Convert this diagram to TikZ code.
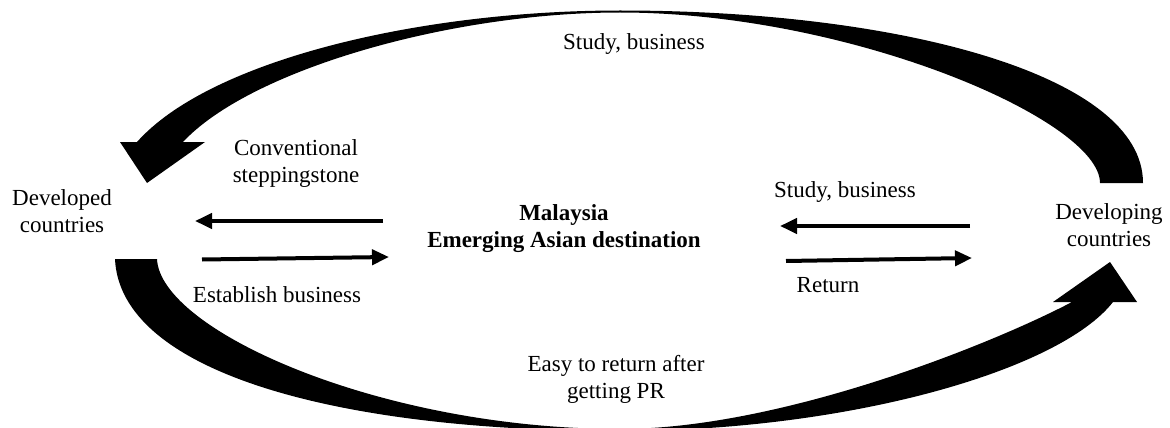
\documentclass[tikz,border=0pt]{standalone}
\usepackage{fontspec}
\setmainfont{Liberation Serif}
\usetikzlibrary{arrows.meta}
\tikzset{
  lbl/.style={font=\fontsize{17.25}{20.25}\selectfont, inner sep=0pt, align=center},
  flow/.style={line width=3pt, -{Triangle[length=12.75pt,width=11.25pt]}},
  bigarrow/.style={fill=black, draw=none}
}
\begin{document}
\begin{tikzpicture}[x=0.75pt,y=-0.75pt]
\useasboundingbox (0,0) rectangle (1170,428);
\clip (0,0) rectangle (1170,428);
% large curved arrows
\path[bigarrow] (1143,183) .. controls (1143,75) and (900,10.5) .. (620,10.5)
  .. controls (420,10.5) and (210,60) .. (137,142)
  -- (120,142) -- (147,183) -- (205,142) -- (183,142)
  .. controls (250,70) and (450,12.5) .. (620,12.5)
  .. controls (850,12.5) and (1100,120) .. (1100,183) -- cycle;
\path[bigarrow] (115,259) .. controls (120,370) and (330,431) .. (620,431)
  .. controls (850,431) and (1060,370) .. (1113,302)
  -- (1137,302) -- (1110,262) -- (1053,302) -- (1072,302)
  .. controls (990,345) and (780,429) .. (620,429)
  .. controls (380,429) and (160,330) .. (157,259) -- cycle;
% texts
\node[lbl] (dev) at (62,211) {Developed\\countries};
\node[lbl] (dvl) at (1109,225.5) {Developing\\countries};
\node[lbl,font=\fontsize{17.25}{20.25}\selectfont\bfseries] (mal) at (564,228.5) {Malaysia\\Emerging Asian destination};
\node[lbl] (conv) at (296,164) {Conventional\\steppingstone};
\node[lbl] (easy) at (616,379) {Easy to return after\\getting PR};
\node[lbl,anchor=base] (sbtop) at (634,50) {Study, business};
\node[lbl,anchor=base] (sbr) at (845,197) {Study, business};
\node[lbl,anchor=base] (est) at (277,302) {Establish business};
\node[lbl,anchor=base] (ret) at (828,292) {Return};
% straight arrows
\coordinate (l1s) at (383,221);
\coordinate (l1e) at (195,221);
\coordinate (l2s) at (202,259.5);
\coordinate (l2e) at (389,257);
\coordinate (r1s) at (970,226);
\coordinate (r1e) at (780,226);
\coordinate (r2s) at (786,261);
\coordinate (r2e) at (972,258);
\draw[flow] (l1s) -- (l1e);
\draw[flow] (l2s) -- (l2e);
\draw[flow] (r1s) -- (r1e);
\draw[flow] (r2s) -- (r2e);
\end{tikzpicture}
\end{document}
